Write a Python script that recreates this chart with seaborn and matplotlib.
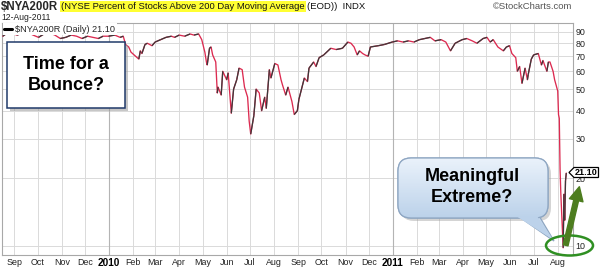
import numpy as np
import pandas as pd
import matplotlib
matplotlib.use("Agg")
import matplotlib.pyplot as plt
import matplotlib.dates as mdates
import matplotlib.ticker as mticker
from matplotlib.collections import LineCollection
from matplotlib.patches import FancyBboxPatch, Rectangle, Ellipse, Polygon
from matplotlib.lines import Line2D
import seaborn as sns

# ---------------- data ----------------
dates = [
    "2009-08-17", "2009-08-21", "2009-08-28", "2009-09-04", "2009-09-11", "2009-09-18",
    "2009-09-25", "2009-10-02", "2009-10-09", "2009-10-16", "2009-10-23", "2009-10-30",
    "2009-11-06", "2009-11-13", "2009-11-20", "2009-11-27", "2009-12-04", "2009-12-11",
    "2009-12-18", "2009-12-24", "2009-12-31",
    "2010-01-08", "2010-01-15", "2010-01-19", "2010-01-22", "2010-01-26", "2010-01-29",
    "2010-02-04", "2010-02-08", "2010-02-10", "2010-02-12", "2010-02-16", "2010-02-19",
    "2010-02-25", "2010-03-01", "2010-03-08", "2010-03-15", "2010-03-22", "2010-03-26",
    "2010-04-01", "2010-04-08", "2010-04-15", "2010-04-20", "2010-04-26", "2010-04-30",
    "2010-05-04", "2010-05-06", "2010-05-07", "2010-05-10", "2010-05-12", "2010-05-14",
    "2010-05-18", "2010-05-20", "2010-05-21", "2010-05-25", "2010-05-27", "2010-06-01",
    "2010-06-03", "2010-06-07", "2010-06-10", "2010-06-14", "2010-06-17", "2010-06-21",
    "2010-06-24", "2010-06-28", "2010-06-30", "2010-07-02", "2010-07-06", "2010-07-09",
    "2010-07-13", "2010-07-16", "2010-07-20", "2010-07-22", "2010-07-26", "2010-07-28",
    "2010-08-02", "2010-08-06", "2010-08-10", "2010-08-12", "2010-08-16", "2010-08-19",
    "2010-08-24", "2010-08-27", "2010-08-31", "2010-09-02", "2010-09-09", "2010-09-13",
    "2010-09-15", "2010-09-21", "2010-09-24", "2010-09-28", "2010-10-04", "2010-10-13",
    "2010-10-20", "2010-10-28", "2010-11-04", "2010-11-08", "2010-11-12", "2010-11-16",
    "2010-11-19", "2010-11-23", "2010-11-26", "2010-11-30", "2010-12-03", "2010-12-13",
    "2010-12-21", "2010-12-31",
    "2011-01-07", "2011-01-14", "2011-01-21", "2011-01-28", "2011-02-04", "2011-02-11",
    "2011-02-18", "2011-02-24", "2011-03-04", "2011-03-10", "2011-03-16", "2011-03-22",
    "2011-03-31", "2011-04-06", "2011-04-13", "2011-04-19", "2011-04-27", "2011-05-02",
    "2011-05-06", "2011-05-10", "2011-05-16", "2011-05-23", "2011-05-27", "2011-05-31",
    "2011-06-03", "2011-06-08", "2011-06-10", "2011-06-13", "2011-06-15", "2011-06-16",
    "2011-06-20", "2011-06-23", "2011-06-24", "2011-06-28", "2011-07-01", "2011-07-07",
    "2011-07-11", "2011-07-13", "2011-07-18", "2011-07-20", "2011-07-22", "2011-07-26",
    "2011-07-28", "2011-08-01", "2011-08-02", "2011-08-03", "2011-08-04", "2011-08-05",
    "2011-08-08", "2011-08-09", "2011-08-10", "2011-08-11", "2011-08-12",
]
values = [
    86, 88, 89, 87, 88.5, 89.5,
    87, 85, 88, 89, 87, 84,
    85, 87, 86, 84, 86, 85,
    84, 86, 86,
    87, 85, 86, 79, 77, 73,
    70, 68, 74, 72, 79, 80,
    78, 81, 83, 85, 86, 85,
    87, 86, 88, 87, 88, 83,
    73, 66, 64, 76, 77, 71,
    66, 48, 51, 47, 60, 55,
    59, 39, 50, 55, 62, 61,
    51, 46, 36, 31.5, 38, 50,
    48, 40, 46, 41, 61, 56,
    65, 64, 55, 52, 47, 51,
    44, 38.5, 40, 45, 56, 54,
    62, 66, 63, 69, 71, 76,
    75, 76, 81, 80, 77, 71,
    74, 72, 71, 70, 77, 78,
    79, 81,
    82, 81, 82, 81, 83, 84,
    85, 82, 83, 81, 74, 80,
    83, 84, 82, 80, 84, 85,
    81, 83, 77, 74, 77, 78,
    72, 69, 60, 63, 56, 53,
    62, 55, 58, 68, 71, 72,
    64, 67, 60, 66, 66, 60,
    55, 49, 38.5, 37, 22, 17,
    9.8, 17, 13, 19.5, 21.1,
]
month_labels = ["Sep", "Oct", "Nov", "Dec", "2010", "Feb", "Mar", "Apr", "May", "Jun",
                "Jul", "Aug", "Sep", "Oct", "Nov", "Dec", "2011", "Feb", "Mar", "Apr",
                "May", "Jun", "Jul", "Aug"]
y_ticks = [10, 20, 30, 40, 50, 60, 70, 80, 90]
y_tick_labels = ["10", "20", "30", "40", "50", "60", "70", "80", "90"]
last_value_label = "21.10"

# ---------------- style ----------------
sns.set_theme(style="white")
plt.rcParams['font.family'] = ['Liberation Sans', 'DejaVu Sans']

W, H = 600, 269
fig = plt.figure(figsize=(W / 100, H / 100), dpi=100)
fig.patch.set_facecolor("white")


def fx(px):
    return px / W


def fy(py):
    return 1 - py / H


ax = fig.add_axes([fx(2), fy(255), fx(572.5) - fx(2), fy(22.5) - fy(255)])
ax.set_facecolor("white")

df = pd.DataFrame({"date": pd.to_datetime(dates), "value": values})

RED = "#dc2a50"
sns.lineplot(data=df, x="date", y="value", ax=ax, color=RED, lw=0.95, zorder=3)

# black segments where the value rises (StockCharts up/down colouring)
xn = mdates.date2num(df["date"])
v = df["value"].to_numpy(dtype=float)
segs = [[(xn[i - 1], v[i - 1]), (xn[i], v[i])] for i in range(1, len(v)) if v[i] > v[i - 1]]
ax.add_collection(LineCollection(segs, colors="#3a3a3a", linewidths=0.9, zorder=4))

ax.set_yscale("log")
ax.set_ylim(9.1, 99)
ax.set_xlim(pd.Timestamp("2009-08-16"), pd.Timestamp("2011-08-20"))

month_starts = pd.date_range("2009-09-01", "2011-08-01", freq="MS")
ax.set_xticks(month_starts)
ax.set_xticklabels(month_labels)
for lab, txt in zip(ax.get_xticklabels(), month_labels):
    if txt.isdigit():
        lab.set_fontweight("bold")
        lab.set_fontsize(7.2)
        lab.set_color("black")
    else:
        lab.set_fontsize(6.4)
        lab.set_color("#222222")
ax.tick_params(axis="x", length=0, pad=2.5)

ax.yaxis.tick_right()
ax.yaxis.set_major_locator(mticker.FixedLocator(y_ticks))
ax.yaxis.set_major_formatter(mticker.FixedFormatter(y_tick_labels))
ax.yaxis.set_minor_locator(mticker.NullLocator())
ax.tick_params(axis="y", length=0, pad=2, labelsize=6.4, labelcolor="#222222")
ax.set_xlabel("")
ax.set_ylabel("")

ax.grid(True, which="major", color="#dadada", lw=0.7, zorder=0)
for yr in ["2010-01-01", "2011-01-01"]:
    ax.axvline(pd.Timestamp(yr), color="#b4b4b4", lw=0.8, zorder=1)
for s in ax.spines.values():
    s.set_color("#a8a8a8")
    s.set_linewidth(0.8)

leg = ax.legend(handles=[Line2D([0], [0], color="black", lw=2.2)],
                labels=[r"\$NYA200R (Daily) 21.10"], loc="upper left",
                fontsize=6.6, handlelength=0.8, handletextpad=0.4, borderpad=0.15,
                borderaxespad=0.1, frameon=True, framealpha=1.0, fancybox=False)
leg.get_frame().set_edgecolor("white")
leg.get_frame().set_linewidth(0)
leg.set_zorder(6)

# ---------------- overlay in pixel coordinates ----------------
ov = fig.add_axes([0, 0, 1, 1], zorder=10)
ov.set_xlim(0, W)
ov.set_ylim(H, 0)
ov.axis("off")
ov.patch.set_alpha(0)

# header
ov.text(1, 6.5, r"\$NYA200R", fontsize=8.3, fontweight="bold", va="center", ha="left")
ov.text(61, 6.8, "(NYSE Percent of Stocks Above 200 Day Moving Average", fontsize=6.8,
        va="center", ha="left", color="#111111",
        bbox=dict(boxstyle="square,pad=0.12", fc="#ffff33", ec="none"))
ov.text(307, 6.8, "(EOD))  INDX", fontsize=6.8, va="center", ha="left", color="#111111")
ov.text(572, 6.5, "\u00a9StockCharts.com", fontsize=6.8, va="center", ha="right", color="#555555")
ov.text(1, 17, "12-Aug-2011", fontsize=6.2, va="center", ha="left", color="#222222")

# "Time for a Bounce?" box
ov.add_patch(Rectangle((10, 45), 118, 66, fc="#9a9a9a", ec="none", alpha=0.55, zorder=1))
ov.add_patch(Rectangle((7, 42), 118, 66, fc="white", ec="#203a6a", lw=1.1, zorder=2))
ov.text(66, 75, "Time for a\nBounce?", fontsize=13, fontweight="bold", ha="center",
        va="center", linespacing=1.25, color="black", zorder=3)

# "Meaningful Extreme?" speech bubble
bx0, by0, bw, bh = 398, 158, 150, 60
shadow = FancyBboxPatch((bx0 + 3, by0 + 3), bw, bh, boxstyle="round,pad=0,rounding_size=13",
                        fc="#a0a0a0", ec="none", alpha=0.45, zorder=1)
ov.add_patch(shadow)
tail = Polygon([(515, 214), (538, 214), (554, 241)], closed=True, fc="#c7daee",
               ec="#8ea6c2", lw=0.9, zorder=2)
ov.add_patch(tail)
bubble = FancyBboxPatch((bx0, by0), bw, bh, boxstyle="round,pad=0,rounding_size=13",
                        fc="#c9dcf0", ec="#8ea6c2", lw=0.9, zorder=3)
ov.add_patch(bubble)
grad = np.linspace(0, 1, 64).reshape(-1, 1)
cmap = matplotlib.colors.LinearSegmentedColormap.from_list("bub", ["#eaf2fb", "#bcd2ea"])
im = ov.imshow(grad, cmap=cmap, extent=(bx0, bx0 + bw, by0 + bh, by0), aspect="auto",
               zorder=3.5, interpolation="bilinear")
im.set_clip_path(bubble)
ov.add_patch(FancyBboxPatch((bx0, by0), bw, bh, boxstyle="round,pad=0,rounding_size=13",
                            fc="none", ec="#8ea6c2", lw=0.9, zorder=3.6))
ov.add_patch(Polygon([(516, 216), (537, 216), (553.5, 240)], closed=True, fc="#bcd2ea",
                     ec="none", zorder=3.7))
ov.text(472, 187, "Meaningful\nExtreme?", fontsize=13, fontweight="bold", ha="center",
        va="center", linespacing=1.25, color="black", zorder=4)

# green ellipse
ov.add_patch(Ellipse((569.5, 245.5), 47, 20, fc="none", ec="#2f8f22", lw=1.8, zorder=5))

# green arrow
ov.annotate("", xy=(580, 184), xytext=(565, 248), xycoords="data", textcoords="data",
            arrowprops=dict(arrowstyle="simple,head_width=1.0,head_length=1.0,tail_width=0.35",
                            fc="#4d7d1f", ec="#4d7d1f", mutation_scale=10), zorder=6)

# last value tag (sits on top of the "20" label, as in the original)
ov.add_patch(Polygon([(569, 172.5), (574, 167.5), (598.5, 167.5), (598.5, 177.5), (574, 177.5)],
                     closed=True, fc="white", ec="black", lw=0.9, zorder=7))
ov.text(586.5, 172.6, last_value_label, fontsize=6.5, fontweight="bold", ha="center",
        va="center", color="black", zorder=8)

fig.savefig("out.png", dpi=100, facecolor="white")
